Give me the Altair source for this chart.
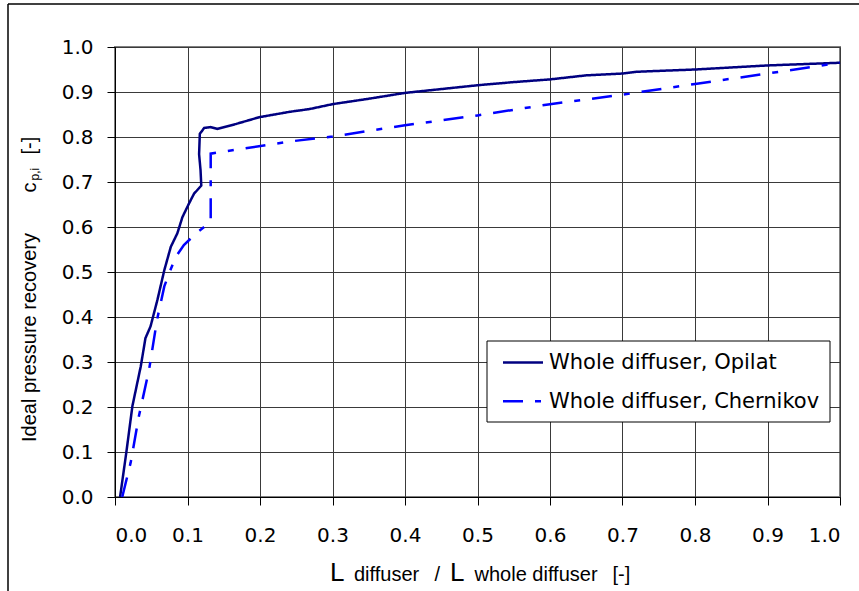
import altair as alt
import pandas as pd

series_names = ["Whole diffuser, Opilat", "Whole diffuser, Chernikov"]
tick_values = [0.0, 0.1, 0.2, 0.3, 0.4, 0.5, 0.6, 0.7, 0.8, 0.9, 1.0]

opilat_x = [0.007, 0.0157, 0.024, 0.0355, 0.042, 0.049, 0.0585, 0.068, 0.077, 0.086,
            0.093, 0.102, 0.109, 0.119, 0.118, 0.116, 0.117, 0.123, 0.132, 0.141,
            0.167, 0.199, 0.241, 0.268, 0.3, 0.35, 0.4, 0.5, 0.55, 0.6,
            0.65, 0.7, 0.72, 0.8, 0.9, 1.0]
opilat_y = [0.0, 0.1, 0.202, 0.29, 0.353, 0.379, 0.438, 0.504, 0.556, 0.586,
            0.622, 0.652, 0.674, 0.692, 0.726, 0.762, 0.807, 0.820, 0.822, 0.818,
            0.829, 0.844, 0.856, 0.862, 0.873, 0.885, 0.898, 0.915, 0.922, 0.928,
            0.937, 0.941, 0.945, 0.950, 0.959, 0.965]

chernikov_x = [0.010, 0.0217, 0.033, 0.047, 0.058, 0.068, 0.0746, 0.084, 0.095, 0.114,
               0.132, 0.132, 0.241, 0.3, 0.4, 0.5, 0.6, 0.7, 0.8, 0.9, 0.983, 1.0]
chernikov_y = [0.0, 0.077, 0.18, 0.283, 0.394, 0.468, 0.497, 0.534, 0.560, 0.589,
               0.611, 0.763, 0.790, 0.801, 0.826, 0.848, 0.873, 0.894, 0.918, 0.941, 0.961, 0.965]

series_colors = ["#000080", "#0000FF"]
series_dashes = [[1, 0], [20, 12, 6, 12]]

frames = []
for name, xs, ys in [(series_names[0], opilat_x, opilat_y),
                     (series_names[1], chernikov_x, chernikov_y)]:
    frames.append(pd.DataFrame({"series": name, "x": xs, "y": ys, "idx": list(range(len(xs)))}))
df = pd.concat(frames, ignore_index=True)

one = pd.DataFrame({"a": [0]})

axis_common = dict(values=tick_values, format=".1f", title=None, grid=True,
                   gridColor="#3a3a3a", gridWidth=1, domainColor="#000", domainWidth=1,
                   tickColor="#000", tickSize=8, labelFont="DejaVu Sans",
                   labelFontSize=20, labelColor="#000")

lines = alt.Chart(df).mark_line(strokeWidth=2.5).encode(
    x=alt.X("x:Q", scale=alt.Scale(domain=[0, 1], nice=False, zero=False),
            axis=alt.Axis(labelPadding=20, **axis_common)),
    y=alt.Y("y:Q", scale=alt.Scale(domain=[0, 1], nice=False),
            axis=alt.Axis(labelPadding=14, **axis_common)),
    color=alt.Color("series:N", scale=alt.Scale(domain=series_names, range=series_colors), legend=None),
    strokeDash=alt.StrokeDash("series:N", scale=alt.Scale(domain=series_names, range=series_dashes), legend=None),
    order="idx:Q",
)

base = alt.Chart(one)

# legend box
leg_box = base.mark_rect(fill="white", stroke="#000", strokeWidth=1).encode(
    x=alt.value(372), x2=alt.value(715), y=alt.value(294), y2=alt.value(375))
leg_l1 = base.mark_rule(color=series_colors[0], strokeWidth=2.5).encode(
    x=alt.value(388), x2=alt.value(428), y=alt.value(315.5))
leg_l2 = base.mark_rule(color=series_colors[1], strokeWidth=2.5, strokeDash=series_dashes[1]).encode(
    x=alt.value(388), x2=alt.value(428), y=alt.value(354.3))
leg_t1 = base.mark_text(align="left", baseline="middle", font="DejaVu Sans", fontSize=21, color="#000").encode(
    x=alt.value(434), y=alt.value(316), text=alt.value(series_names[0]))
leg_t2 = base.mark_text(align="left", baseline="middle", font="DejaVu Sans", fontSize=21, color="#000").encode(
    x=alt.value(434), y=alt.value(355), text=alt.value(series_names[1]))

# x title pieces
tfont = "Liberation Sans"
xt = [
    base.mark_text(align="left", baseline="alphabetic", font=tfont, fontSize=26, color="#000").encode(
        x=alt.value(215), y=alt.value(534), text=alt.value("L")),
    base.mark_text(align="left", baseline="alphabetic", font=tfont, fontSize=20, color="#000").encode(
        x=alt.value(239), y=alt.value(534), text=alt.value("diffuser")),
    base.mark_text(align="left", baseline="alphabetic", font=tfont, fontSize=20, color="#000").encode(
        x=alt.value(319.5), y=alt.value(534), text=alt.value("/")),
    base.mark_text(align="left", baseline="alphabetic", font=tfont, fontSize=26, color="#000").encode(
        x=alt.value(335), y=alt.value(534), text=alt.value("L")),
    base.mark_text(align="left", baseline="alphabetic", font=tfont, fontSize=20, color="#000").encode(
        x=alt.value(359.5), y=alt.value(534), text=alt.value("whole diffuser")),
    base.mark_text(align="left", baseline="alphabetic", font=tfont, fontSize=20, color="#000").encode(
        x=alt.value(497.5), y=alt.value(534), text=alt.value("[-]")),
]

# y title pieces (rotated)
yt = [
    base.mark_text(align="left", baseline="middle", angle=270, font=tfont, fontSize=20, color="#000").encode(
        x=alt.value(-85.5), y=alt.value(395), text=alt.value("Ideal pressure recovery")),
    base.mark_text(align="left", baseline="middle", angle=270, font=tfont, fontSize=20, color="#000").encode(
        x=alt.value(-85.5), y=alt.value(145.5), text=alt.value("c")),
    base.mark_text(align="left", baseline="middle", angle=270, font=tfont, fontSize=12, color="#000").encode(
        x=alt.value(-80), y=alt.value(133.5), text=alt.value("p,i")),
    base.mark_text(align="left", baseline="middle", angle=270, font=tfont, fontSize=20, color="#000").encode(
        x=alt.value(-85.5), y=alt.value(107.5), text=alt.value("[-]")),
]

# outer frame
frame_left = base.mark_rule(color="#000", strokeWidth=1.5).encode(
    x=alt.value(-107), y=alt.value(-43), y2=alt.value(560))
frame_top = base.mark_rule(color="#000", strokeWidth=1.5).encode(
    x=alt.value(-107), x2=alt.value(760), y=alt.value(-43))

chart = alt.layer(
    lines, leg_box, leg_l1, leg_l2, leg_t1, leg_t2, *xt, *yt, frame_left, frame_top
).properties(
    width=725, height=450,
    autosize=alt.AutoSizeParams(type="none"),
    padding={"left": 115, "top": 47, "right": 19, "bottom": 94},
    background="white",
).configure_view(stroke="#808080", strokeWidth=2)

chart.save("out.html", embed_options={"renderer": "svg", "actions": False})
